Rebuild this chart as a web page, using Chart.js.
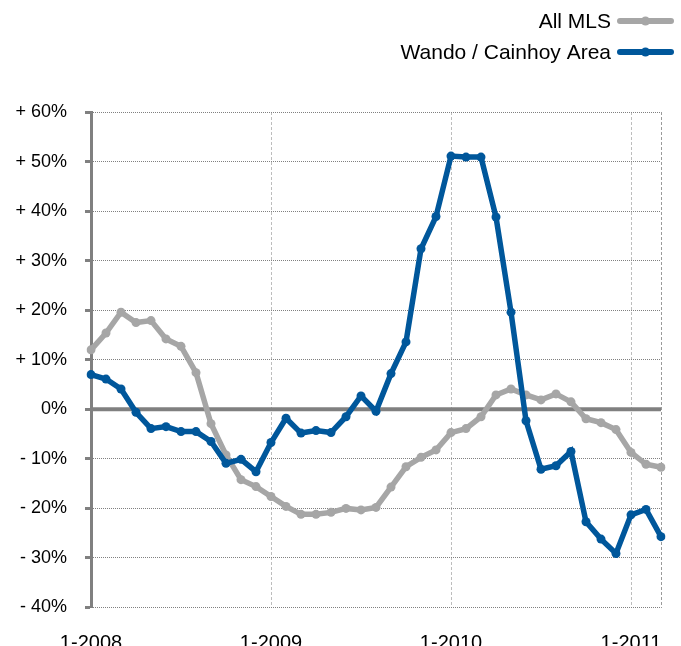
<!DOCTYPE html>
<html>
<head>
<meta charset="utf-8">
<script src="https://cdn.jsdelivr.net/npm/chart.js@4/dist/chart.umd.min.js"></script>
<style>
html,body{margin:0;padding:0;background:#fff;}
#wrap{width:681px;height:646px;}
</style>
</head>
<body>
<div id="wrap"><canvas id="c" width="681" height="646"></canvas></div>
<script>
const categories = [
  '1-2008','2-2008','3-2008','4-2008','5-2008','6-2008','7-2008','8-2008','9-2008','10-2008','11-2008','12-2008',
  '1-2009','2-2009','3-2009','4-2009','5-2009','6-2009','7-2009','8-2009','9-2009','10-2009','11-2009','12-2009',
  '1-2010','2-2010','3-2010','4-2010','5-2010','6-2010','7-2010','8-2010','9-2010','10-2010','11-2010','12-2010',
  '1-2011','2-2011','3-2011'
];
const tickLabels = ['1-2008','1-2009','1-2010','1-2011'];
const seriesNames = ['All MLS','Wando / Cainhoy Area'];
const allMLS = [
  12.0, 15.4, 19.6, 17.5, 17.9, 14.2, 12.7, 7.4, -2.9, -9.2, -14.2, -15.6,
  -17.6, -19.6, -21.2, -21.2, -20.8, -20.0, -20.3, -19.8, -15.7, -11.6, -9.7, -8.2,
  -4.7, -3.9, -1.5, 2.9, 4.1, 2.9, 1.9, 3.1, 1.5, -1.9, -2.7, -4.1,
  -8.7, -11.1, -11.7
];
const wando = [
  7.0, 6.1, 4.1, -0.6, -3.9, -3.5, -4.5, -4.5, -6.5, -10.9, -10.1, -12.6,
  -6.7, -1.8, -4.8, -4.3, -4.7, -1.5, 2.7, -0.4, 7.2, 13.6, 32.4, 38.9,
  51.1, 50.9, 50.9, 38.8, 19.6, -2.3, -12.1, -11.4, -8.5, -22.7, -26.2, -29.1,
  -21.3, -20.2, -25.7
];
const colors = ['#a6a6a6', '#00579b'];

const zeroLine = {
  id: 'zeroLine',
  beforeDatasetsDraw(chart) {
    const {ctx, chartArea, scales} = chart;
    const y = scales.y.getPixelForValue(0);
    ctx.save();
    ctx.strokeStyle = '#808080';
    ctx.lineWidth = 4;
    ctx.beginPath();
    ctx.moveTo(chartArea.left, y);
    ctx.lineTo(chartArea.right, y);
    ctx.stroke();
    ctx.restore();
  }
};

const customLegend = {
  id: 'customLegend',
  afterDraw(chart) {
    const {ctx} = chart;
    const rows = [21, 52];
    ctx.save();
    ctx.font = '21px "Liberation Sans", Arial, sans-serif';
    ctx.textAlign = 'right';
    ctx.textBaseline = 'middle';
    chart.data.datasets.forEach((ds, i) => {
      const y = rows[i];
      ctx.fillStyle = '#000';
      ctx.fillText(ds.label, 611, y + 1);
      ctx.strokeStyle = ds.borderColor;
      ctx.lineWidth = 6;
      ctx.lineCap = 'round';
      ctx.beginPath();
      ctx.moveTo(620, y);
      ctx.lineTo(671, y);
      ctx.stroke();
      ctx.fillStyle = ds.borderColor;
      ctx.beginPath();
      ctx.arc(645.5, y, 4.5, 0, Math.PI * 2);
      ctx.fill();
    });
    ctx.restore();
  }
};

new Chart(document.getElementById('c'), {
  type: 'line',
  data: {
    labels: categories,
    datasets: [
      {
        label: seriesNames[0], data: allMLS,
        borderColor: colors[0], backgroundColor: colors[0],
        borderWidth: 5.5, pointRadius: 4.5, pointBorderWidth: 0,
        tension: 0, order: 2
      },
      {
        label: seriesNames[1], data: wando,
        borderColor: colors[1], backgroundColor: colors[1],
        borderWidth: 5.5, pointRadius: 4.5, pointBorderWidth: 0,
        tension: 0, order: 1
      }
    ]
  },
  options: {
    responsive: false,
    animation: false,
    events: [],
    layout: { padding: { top: 112, right: 20, left: 0, bottom: 0 } },
    plugins: { legend: { display: false }, tooltip: { enabled: false } },
    scales: {
      x: {
        type: 'category',
        offset: false,
        afterFit(s) { s.height = 38.5; s.paddingRight = 0; s.paddingLeft = 0; },
        border: { display: false, dash: [3, 2] },
        grid: {
          drawTicks: false,
          lineWidth: 1,
          color(ctx) {
            const i = ctx.index;
            if (i === categories.length - 1) return '#9a9a9a';
            return tickLabels.includes(categories[i]) && i !== 0 ? '#bdbdbd' : 'rgba(0,0,0,0)';
          }
        },
        ticks: {
          autoSkip: false,
          maxRotation: 0,
          padding: 24,
          color: '#000',
          font: { family: '"Liberation Sans", Arial, sans-serif', size: 20 },
          callback(v, i) {
            return tickLabels.includes(categories[i]) ? categories[i] : '';
          }
        }
      },
      y: {
        min: -40, max: 60,
        afterFit(s) { s.width = 91; s.paddingTop = 0; s.paddingBottom = 0; },
        border: { display: true, color: '#808080', width: 3, dash: [1, 1] },
        grid: {
          color: '#808080',
          lineWidth: 1,
          drawTicks: true,
          tickLength: 6,
          tickColor: '#808080',
          tickWidth: 3
        },
        ticks: {
          stepSize: 10,
          padding: 18,
          color: '#000',
          font: { family: '"Liberation Sans", Arial, sans-serif', size: 18 },
          callback(v) {
            if (v === 0) return '0%';
            return (v > 0 ? '+ ' : '- ') + Math.abs(v) + '%';
          }
        }
      }
    }
  },
  plugins: [zeroLine, customLegend]
});
</script>
</body>
</html>
